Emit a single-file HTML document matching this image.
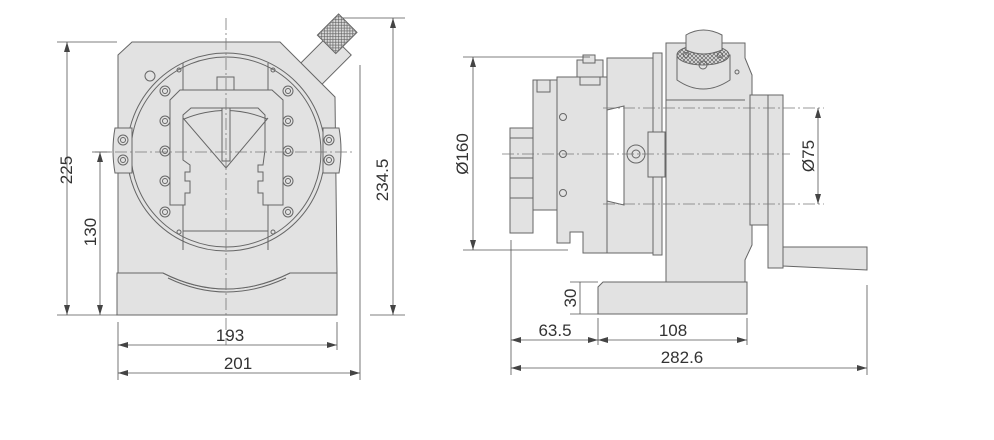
<!DOCTYPE html>
<html><head><meta charset="utf-8"><style>
html,body{margin:0;padding:0;background:#fff;}
svg{display:block;}
text{font-family:"Liberation Sans",sans-serif;font-size:17px;fill:#333;}
</style></head><body>
<svg width="994" height="440" viewBox="0 0 994 440" xmlns="http://www.w3.org/2000/svg">
<defs>
<marker id="a" viewBox="0 0 10 6" refX="10" refY="3" markerWidth="10" markerHeight="6" orient="auto-start-reverse" markerUnits="userSpaceOnUse"><path d="M0,0 L10,3 L0,6 z" fill="#444"/></marker>
<pattern id="kn" width="4" height="4" patternUnits="userSpaceOnUse"><rect width="4" height="4" fill="#ddd"/><path d="M0,0L4,4M4,0L0,4" stroke="#666" stroke-width="0.7"/></pattern>
</defs>
<g stroke="#666" stroke-width="1" fill="#e2e2e2">
<!-- LEFT VIEW -->
<g transform="rotate(45 330 55)"><rect x="315" y="40" width="30" height="46"/></g>
<rect x="322" y="22" width="26" height="30" transform="rotate(45 340 38)" fill="url(#kn)"/>
<path d="M117,273 L163,273 Q226,305 290,273 L337,273 L337,315 L117,315 z"/>
<path d="M118,55 L132,42 L280,42 L335,97 L337,273 L290,273 Q226,305 163,273 L118,273 z"/>
<path d="M168,278 Q226,306 286,278" fill="none"/>
<circle cx="150" cy="76" r="5"/>
<circle cx="226" cy="152" r="99"/>
<circle cx="226" cy="152" r="95"/>
<path d="M183,63 L183,250 M268,63 L268,250 M183,231 L268,231" fill="none"/>
<rect x="217" y="77" width="17" height="14"/>
<path d="M170,205 L170,100 L180,90 L272,90 L283,100 L283,205 L263,205 L263,193 L258,193 L258,181 L263,181 L263,172 L258,172 L258,165 L263,165 L265,150 L265,115 L258,108 L191,108 L183,115 L183,160 L190,165 L190,172 L185,172 L185,181 L190,181 L190,193 L185,193 L185,205 z"/>
<path d="M183,118 L226,168 L268,118 M184,119 Q226,102 267,119" fill="none"/>
<rect x="222" y="108" width="8" height="53"/>
<path d="M115,128 L132,128 L132,173 L115,173 Q111,150 115,128 z"/>
<path d="M323,128 L339,128 Q343,150 339,173 L323,173 z"/>
<g fill="none">
<circle cx="165" cy="91" r="5"/><circle cx="165" cy="91" r="2.5"/>
<circle cx="165" cy="121" r="5"/><circle cx="165" cy="121" r="2.5"/>
<circle cx="165" cy="151" r="5"/><circle cx="165" cy="151" r="2.5"/>
<circle cx="165" cy="181" r="5"/><circle cx="165" cy="181" r="2.5"/>
<circle cx="165" cy="212" r="5"/><circle cx="165" cy="212" r="2.5"/>
<circle cx="288" cy="91" r="5"/><circle cx="288" cy="91" r="2.5"/>
<circle cx="288" cy="121" r="5"/><circle cx="288" cy="121" r="2.5"/>
<circle cx="288" cy="151" r="5"/><circle cx="288" cy="151" r="2.5"/>
<circle cx="288" cy="181" r="5"/><circle cx="288" cy="181" r="2.5"/>
<circle cx="288" cy="212" r="5"/><circle cx="288" cy="212" r="2.5"/>
<circle cx="123" cy="140" r="5"/><circle cx="123" cy="140" r="2.5"/>
<circle cx="123" cy="160" r="5"/><circle cx="123" cy="160" r="2.5"/>
<circle cx="329" cy="140" r="5"/><circle cx="329" cy="140" r="2.5"/>
<circle cx="329" cy="160" r="5"/><circle cx="329" cy="160" r="2.5"/>
<circle cx="179" cy="70" r="2"/><circle cx="273" cy="70" r="2"/><circle cx="179" cy="232" r="2"/><circle cx="273" cy="232" r="2"/>
</g>

<!-- RIGHT VIEW -->
<rect x="510" y="128" width="23" height="105"/>
<path d="M510,138 H533 M510,158 H533 M510,178 H533 M510,198 H533" fill="none"/>
<rect x="533" y="80" width="24" height="130"/>
<rect x="537" y="80" width="13" height="12"/>
<path d="M557,77 L607,77 L607,253 L583,253 L583,232 L570,232 L570,243 L557,243 z"/>
<rect x="577" y="60" width="26" height="17"/>
<rect x="583" y="55" width="12" height="8"/>
<rect x="580" y="77" width="20" height="8"/>
<path d="M607,58 L653,58 L653,253 L607,253 L607,201 L624,205 L624,106 L607,110 z"/>
<circle cx="563" cy="117" r="3.5" fill="none"/><circle cx="563" cy="154" r="3.5" fill="none"/><circle cx="563" cy="193" r="3.5" fill="none"/>
<rect x="653" y="53" width="9" height="202"/>
<rect x="648" y="132" width="17" height="45"/>
<circle cx="636" cy="154" r="9"/><circle cx="636" cy="154" r="4" fill="none"/>
<path d="M666,43 L745,43 L745,58 L752,75 L752,245 L745,260 L745,282 L666,282 z"/>
<path d="M666,100 H745" fill="none"/>
<rect x="750" y="95" width="18" height="130"/>
<path d="M768,95 L783,95 L783,268 L768,268 z"/>
<path d="M783,247 L867,247 L867,270 L783,266 z"/>
<path d="M677,55 L677,80 Q703,98 730,80 L730,55 z"/>
<ellipse cx="703" cy="55" rx="26" ry="10" fill="url(#kn)"/>
<path d="M686,35 Q703,25 722,35 L722,50 Q703,58 686,50 z"/>
<circle cx="703" cy="65" r="4" fill="none"/><circle cx="686" cy="55" r="2.5" fill="none"/><circle cx="720" cy="55" r="2.5" fill="none"/><circle cx="737" cy="72" r="2" fill="none"/>
<path d="M603,282 L747,282 L747,314 L598,314 L598,287 z"/>
</g>

<!-- centerlines -->
<g stroke="#777" stroke-width="0.8" stroke-dasharray="12,3,2,3" fill="none">
<path d="M226,18 V345"/><path d="M95,152 H355"/>
<path d="M502,154 H790"/><path d="M603,108 H824"/><path d="M603,204 H824"/>
</g>

<!-- dimension lines -->
<g stroke="#555" stroke-width="0.8" fill="none">
<path d="M57,42 H117 M57,315 H117 M92,152 H110 M343,18 H405 M370,315 H405"/>
<path d="M67,42 V315" marker-start="url(#a)" marker-end="url(#a)"/>
<path d="M100,152 V315" marker-start="url(#a)" marker-end="url(#a)"/>
<path d="M393,18 V315" marker-start="url(#a)" marker-end="url(#a)"/>
<path d="M118,322 V380 M337,322 V350 M360,65 V380"/>
<path d="M118,345 H337" marker-start="url(#a)" marker-end="url(#a)"/>
<path d="M118,373 H360" marker-start="url(#a)" marker-end="url(#a)"/>
<path d="M463,57 H590 M463,250 H568"/>
<path d="M473,57 V250" marker-start="url(#a)" marker-end="url(#a)"/>
<path d="M818,108 V204" marker-start="url(#a)" marker-end="url(#a)"/>
<path d="M570,282 H598 M570,314 H598"/>
<path d="M580,282 V314"/>
<path d="M511,240 V375 M598,318 V345 M747,318 V345 M867,285 V375"/>
<path d="M511,340 H598" marker-start="url(#a)" marker-end="url(#a)"/>
<path d="M598,340 H747" marker-start="url(#a)" marker-end="url(#a)"/>
<path d="M511,368 H867" marker-start="url(#a)" marker-end="url(#a)"/>
</g>

<!-- labels -->
<text transform="translate(72,170) rotate(-90)" text-anchor="middle">225</text>
<text transform="translate(96,232) rotate(-90)" text-anchor="middle">130</text>
<text transform="translate(388,180) rotate(-90)" text-anchor="middle">234.5</text>
<text x="230" y="341" text-anchor="middle">193</text>
<text x="238" y="369" text-anchor="middle">201</text>
<text transform="translate(468,154) rotate(-90)" text-anchor="middle">Ø160</text>
<text transform="translate(814,156) rotate(-90)" text-anchor="middle">Ø75</text>
<text transform="translate(576,298) rotate(-90)" text-anchor="middle">30</text>
<text x="555" y="336" text-anchor="middle">63.5</text>
<text x="673" y="336" text-anchor="middle">108</text>
<text x="682" y="363" text-anchor="middle">282.6</text>
</svg>
</body></html>
